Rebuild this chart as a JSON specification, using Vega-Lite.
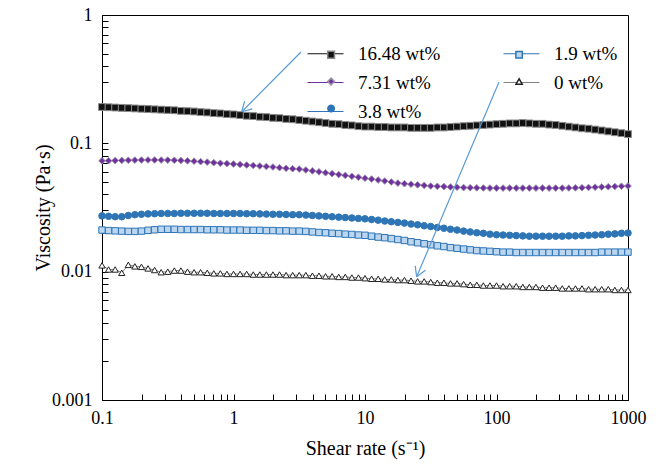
{
  "$schema": "https://vega.github.io/schema/vega-lite/v6.json",
  "width": 526,
  "height": 385,
  "autosize": "none",
  "padding": {"left": 102, "top": 15, "right": 38, "bottom": 65},
  "background": "white",
  "config": {
    "view": {"stroke": "black", "strokeWidth": 1},
    "font": "Liberation Serif",
    "legend": {"labelFont": "Liberation Serif", "labelFontSize": 19, "labelColor": "black"},
    "axis": {
      "grid": false,
      "domainColor": "black",
      "domainWidth": 1,
      "tickColor": "black",
      "tickWidth": 1,
      "labelFont": "Liberation Serif",
      "labelFontSize": 18,
      "labelColor": "black",
      "labelOverlap": false,
      "labelBound": false,
      "labelFlush": false,
      "titleFont": "Liberation Serif",
      "titleFontSize": 20,
      "titleFontWeight": "normal",
      "titleColor": "black"
    }
  },
  "resolve": {"axis": {"x": "independent", "y": "independent"}},
  "datasets": {
    "curves": [
      {"x": 0.1, "a": 0.192, "b": 0.0730, "c": 0.0272, "d": 0.0211, "e": 0.0112},
      {"x": 0.1122, "a": 0.191, "b": 0.0732, "c": 0.0270, "d": 0.0209, "e": 0.0104},
      {"x": 0.1259, "a": 0.190, "b": 0.0734, "c": 0.0268, "d": 0.0208, "e": 0.0104},
      {"x": 0.1413, "a": 0.189, "b": 0.0736, "c": 0.0268, "d": 0.0207, "e": 0.0098},
      {"x": 0.1585, "a": 0.188, "b": 0.0738, "c": 0.0274, "d": 0.0206, "e": 0.0113},
      {"x": 0.1778, "a": 0.187, "b": 0.0740, "c": 0.0278, "d": 0.0206, "e": 0.0110},
      {"x": 0.1995, "a": 0.186, "b": 0.0741, "c": 0.0280, "d": 0.0207, "e": 0.0109},
      {"x": 0.2239, "a": 0.185, "b": 0.0742, "c": 0.0282, "d": 0.0210, "e": 0.0106},
      {"x": 0.2512, "a": 0.184, "b": 0.0742, "c": 0.0283, "d": 0.0212, "e": 0.0103},
      {"x": 0.2818, "a": 0.183, "b": 0.0741, "c": 0.0284, "d": 0.0214, "e": 0.0099},
      {"x": 0.3162, "a": 0.182, "b": 0.0740, "c": 0.0284, "d": 0.0214, "e": 0.0100},
      {"x": 0.3548, "a": 0.181, "b": 0.0738, "c": 0.0284, "d": 0.0214, "e": 0.0102},
      {"x": 0.3981, "a": 0.179, "b": 0.0735, "c": 0.0285, "d": 0.0213, "e": 0.0102},
      {"x": 0.4467, "a": 0.178, "b": 0.0731, "c": 0.0285, "d": 0.0213, "e": 0.0100},
      {"x": 0.5012, "a": 0.177, "b": 0.0726, "c": 0.0285, "d": 0.0213, "e": 0.0099},
      {"x": 0.5623, "a": 0.175, "b": 0.0720, "c": 0.0285, "d": 0.0213, "e": 0.0099},
      {"x": 0.6310, "a": 0.174, "b": 0.0714, "c": 0.0285, "d": 0.0212, "e": 0.0098},
      {"x": 0.7079, "a": 0.172, "b": 0.0707, "c": 0.0284, "d": 0.0212, "e": 0.0097},
      {"x": 0.7943, "a": 0.171, "b": 0.0700, "c": 0.0284, "d": 0.0212, "e": 0.0097},
      {"x": 0.8913, "a": 0.169, "b": 0.0695, "c": 0.0284, "d": 0.0211, "e": 0.0096},
      {"x": 1, "a": 0.168, "b": 0.0690, "c": 0.0284, "d": 0.0211, "e": 0.0096},
      {"x": 1.122, "a": 0.166, "b": 0.0684, "c": 0.0284, "d": 0.0211, "e": 0.0096},
      {"x": 1.259, "a": 0.164, "b": 0.0678, "c": 0.0283, "d": 0.0210, "e": 0.0096},
      {"x": 1.413, "a": 0.163, "b": 0.0672, "c": 0.0283, "d": 0.0210, "e": 0.0095},
      {"x": 1.585, "a": 0.161, "b": 0.0666, "c": 0.0282, "d": 0.0210, "e": 0.0095},
      {"x": 1.778, "a": 0.160, "b": 0.0660, "c": 0.0281, "d": 0.0209, "e": 0.0095},
      {"x": 1.995, "a": 0.158, "b": 0.0654, "c": 0.0280, "d": 0.0209, "e": 0.0095},
      {"x": 2.239, "a": 0.157, "b": 0.0646, "c": 0.0280, "d": 0.0208, "e": 0.0095},
      {"x": 2.512, "a": 0.155, "b": 0.0639, "c": 0.0279, "d": 0.0208, "e": 0.0094},
      {"x": 2.818, "a": 0.154, "b": 0.0634, "c": 0.0278, "d": 0.0207, "e": 0.0094},
      {"x": 3.162, "a": 0.152, "b": 0.0630, "c": 0.0278, "d": 0.0207, "e": 0.0094},
      {"x": 3.548, "a": 0.150, "b": 0.0620, "c": 0.0276, "d": 0.0206, "e": 0.0094},
      {"x": 3.981, "a": 0.148, "b": 0.0610, "c": 0.0274, "d": 0.0204, "e": 0.0093},
      {"x": 4.467, "a": 0.146, "b": 0.0600, "c": 0.0272, "d": 0.0202, "e": 0.0093},
      {"x": 5.012, "a": 0.144, "b": 0.0590, "c": 0.0270, "d": 0.0201, "e": 0.0092},
      {"x": 5.623, "a": 0.142, "b": 0.0580, "c": 0.0268, "d": 0.0199, "e": 0.0092},
      {"x": 6.310, "a": 0.141, "b": 0.0571, "c": 0.0266, "d": 0.0198, "e": 0.0091},
      {"x": 7.079, "a": 0.139, "b": 0.0562, "c": 0.0264, "d": 0.0196, "e": 0.0091},
      {"x": 7.943, "a": 0.138, "b": 0.0553, "c": 0.0262, "d": 0.0195, "e": 0.0090},
      {"x": 8.913, "a": 0.136, "b": 0.0544, "c": 0.0260, "d": 0.0193, "e": 0.0090},
      {"x": 10, "a": 0.135, "b": 0.0535, "c": 0.0258, "d": 0.0192, "e": 0.0089},
      {"x": 11.22, "a": 0.135, "b": 0.0527, "c": 0.0255, "d": 0.0189, "e": 0.0088},
      {"x": 12.59, "a": 0.134, "b": 0.0518, "c": 0.0252, "d": 0.0186, "e": 0.0088},
      {"x": 14.13, "a": 0.134, "b": 0.0509, "c": 0.0248, "d": 0.0184, "e": 0.0087},
      {"x": 15.85, "a": 0.133, "b": 0.0500, "c": 0.0245, "d": 0.0181, "e": 0.0087},
      {"x": 17.78, "a": 0.133, "b": 0.0490, "c": 0.0242, "d": 0.0178, "e": 0.0086},
      {"x": 19.95, "a": 0.133, "b": 0.0485, "c": 0.0239, "d": 0.0175, "e": 0.0086},
      {"x": 22.39, "a": 0.132, "b": 0.0480, "c": 0.0235, "d": 0.0171, "e": 0.0085},
      {"x": 25.12, "a": 0.132, "b": 0.0475, "c": 0.0232, "d": 0.0168, "e": 0.0084},
      {"x": 28.18, "a": 0.132, "b": 0.0470, "c": 0.0228, "d": 0.0165, "e": 0.0084},
      {"x": 31.62, "a": 0.132, "b": 0.0465, "c": 0.0225, "d": 0.0162, "e": 0.0083},
      {"x": 35.48, "a": 0.133, "b": 0.0462, "c": 0.0221, "d": 0.0159, "e": 0.0082},
      {"x": 39.81, "a": 0.133, "b": 0.0460, "c": 0.0218, "d": 0.0157, "e": 0.0082},
      {"x": 44.67, "a": 0.134, "b": 0.0457, "c": 0.0214, "d": 0.0154, "e": 0.0081},
      {"x": 50.12, "a": 0.135, "b": 0.0455, "c": 0.0211, "d": 0.0152, "e": 0.0081},
      {"x": 56.23, "a": 0.136, "b": 0.0452, "c": 0.0207, "d": 0.0150, "e": 0.0080},
      {"x": 63.10, "a": 0.137, "b": 0.0451, "c": 0.0204, "d": 0.0148, "e": 0.0079},
      {"x": 70.79, "a": 0.138, "b": 0.0450, "c": 0.0201, "d": 0.0146, "e": 0.0079},
      {"x": 79.43, "a": 0.139, "b": 0.0449, "c": 0.0199, "d": 0.0145, "e": 0.0078},
      {"x": 89.13, "a": 0.140, "b": 0.0448, "c": 0.0196, "d": 0.0144, "e": 0.0078},
      {"x": 100, "a": 0.141, "b": 0.0448, "c": 0.0194, "d": 0.0143, "e": 0.0078},
      {"x": 112.2, "a": 0.142, "b": 0.0448, "c": 0.0193, "d": 0.0142, "e": 0.0077},
      {"x": 125.9, "a": 0.143, "b": 0.0448, "c": 0.0192, "d": 0.0142, "e": 0.0077},
      {"x": 141.3, "a": 0.143, "b": 0.0448, "c": 0.0191, "d": 0.0141, "e": 0.0077},
      {"x": 158.5, "a": 0.144, "b": 0.0448, "c": 0.0190, "d": 0.0141, "e": 0.0076},
      {"x": 177.8, "a": 0.143, "b": 0.0448, "c": 0.0189, "d": 0.0141, "e": 0.0076},
      {"x": 199.5, "a": 0.142, "b": 0.0448, "c": 0.0189, "d": 0.0141, "e": 0.0076},
      {"x": 223.9, "a": 0.142, "b": 0.0448, "c": 0.0189, "d": 0.0141, "e": 0.0075},
      {"x": 251.2, "a": 0.140, "b": 0.0448, "c": 0.0189, "d": 0.0141, "e": 0.0075},
      {"x": 281.8, "a": 0.139, "b": 0.0448, "c": 0.0189, "d": 0.0141, "e": 0.0075},
      {"x": 316.2, "a": 0.137, "b": 0.0448, "c": 0.0189, "d": 0.0141, "e": 0.0074},
      {"x": 354.8, "a": 0.135, "b": 0.0449, "c": 0.0190, "d": 0.0141, "e": 0.0074},
      {"x": 398.1, "a": 0.133, "b": 0.0450, "c": 0.0190, "d": 0.0141, "e": 0.0074},
      {"x": 446.7, "a": 0.131, "b": 0.0451, "c": 0.0191, "d": 0.0141, "e": 0.0074},
      {"x": 501.2, "a": 0.130, "b": 0.0453, "c": 0.0192, "d": 0.0141, "e": 0.0073},
      {"x": 562.3, "a": 0.128, "b": 0.0455, "c": 0.0193, "d": 0.0141, "e": 0.0073},
      {"x": 631.0, "a": 0.126, "b": 0.0457, "c": 0.0194, "d": 0.0142, "e": 0.0073},
      {"x": 707.9, "a": 0.124, "b": 0.0459, "c": 0.0196, "d": 0.0142, "e": 0.0073},
      {"x": 794.3, "a": 0.122, "b": 0.0461, "c": 0.0197, "d": 0.0142, "e": 0.0072},
      {"x": 891.3, "a": 0.120, "b": 0.0463, "c": 0.0199, "d": 0.0142, "e": 0.0072},
      {"x": 1000, "a": 0.118, "b": 0.0465, "c": 0.0200, "d": 0.0142, "e": 0.0072}
    ],
    "arrows": [
      {"x": 3.26, "visc": 0.515, "x2": 1.155, "visc2": 0.1763},
      {"x": 1.155, "visc": 0.1763, "x2": 1.39, "visc2": 0.1858},
      {"x": 1.155, "visc": 0.1763, "x2": 1.213, "visc2": 0.2133},
      {"x": 104.5, "visc": 0.30, "x2": 24.7, "visc2": 0.00912},
      {"x": 24.7, "visc": 0.00912, "x2": 28.8, "visc2": 0.01027},
      {"x": 24.7, "visc": 0.00912, "x2": 24.1, "visc2": 0.0111}
    ]
  },
  "layer": [
    {
      "data": {"name": "curves"},
      "transform": [{"fold": ["a", "b", "c", "d", "e"], "as": ["series", "visc"]}],
      "mark": {"type": "line", "strokeWidth": 1},
      "encoding": {
        "x": {
          "field": "x",
          "type": "quantitative",
          "scale": {"type": "log", "domain": [0.1, 1000], "nice": false},
          "axis": {
            "title": "Shear rate (s⁻¹)",
            "values": [0.1, 1, 10, 100, 1000],
            "format": "~g",
            "ticks": false,
            "labelPadding": 9,
            "titlePadding": 11
          }
        },
        "y": {
          "field": "visc",
          "type": "quantitative",
          "scale": {"type": "log", "domain": [0.001, 1], "nice": false},
          "axis": {
            "title": "Viscosity (Pa·s)",
            "values": [0.001, 0.01, 0.1, 1],
            "format": "~g",
            "ticks": false,
            "labelPadding": 10,
            "titlePadding": -2
          }
        },
        "color": {
          "field": "series",
          "type": "nominal",
          "scale": {"domain": ["a", "b", "c", "d", "e"], "range": ["#111111", "#7030a0", "#2e75b6", "#2e75b6", "#808080"]},
          "legend": {
            "orient": "none",
            "legendX": 205,
            "legendY": 20,
            "columns": 2,
            "columnPadding": 60,
            "rowPadding": -4,
            "title": null,
            "symbolType": "stroke",
            "symbolSize": 1296,
            "symbolStrokeWidth": 1,
            "labelFont": "Liberation Serif",
            "labelFontSize": 19,
            "labelColor": "black",
            "labelOffset": 14,
            "labelExpr": "datum.value === 'a' ? '16.48 wt%' : datum.value === 'b' ? '7.31 wt%' : datum.value === 'c' ? '3.8 wt%' : datum.value === 'd' ? '1.9 wt%' : '0 wt%'"
          }
        }
      }
    },
    {
      "data": {"name": "curves"},
      "transform": [{"fold": ["a", "b", "c", "d", "e"], "as": ["key", "visc"]}],
      "mark": {"type": "point", "filled": true, "opacity": 1, "strokeWidth": 1},
      "encoding": {
        "x": {"field": "x", "type": "quantitative", "axis": null},
        "y": {"field": "visc", "type": "quantitative", "axis": null},
        "fill": {
          "field": "key",
          "type": "nominal",
          "scale": {"domain": ["a", "b", "c", "d", "e", "z"], "range": ["#111111", "#7030a0", "#2e75b6", "#bcd6ef", "#ffffff", "transparent"]},
          "legend": {
            "orient": "none",
            "legendX": 219.6,
            "legendY": 30,
            "columns": 2,
            "columnPadding": 169,
            "rowPadding": 7,
            "title": null,
            "labelFont": "Liberation Serif",
            "labelFontSize": 19,
            "labelOffset": 0,
            "labelExpr": "' '"
          }
        },
        "stroke": {
          "field": "key",
          "type": "nominal",
          "scale": {"domain": ["a", "b", "c", "d", "e", "z"], "range": ["#8a8a8a", "#9a90a8", "#2e75b6", "#2e75b6", "#222222", "transparent"]}
        },
        "shape": {
          "field": "key",
          "type": "nominal",
          "scale": {"domain": ["a", "b", "c", "d", "e", "z"], "range": ["square", "diamond", "circle", "square", "triangle-up", "circle"]}
        },
        "size": {
          "field": "key",
          "type": "ordinal",
          "scale": {"domain": ["a", "b", "c", "d", "e", "z"], "range": [46, 38, 24, 26, 20, 1]}
        }
      }
    },
    {
      "data": {"name": "arrows"},
      "mark": {"type": "rule", "color": "#5b9bd5", "strokeWidth": 1.2},
      "encoding": {
        "x": {
          "field": "x",
          "type": "quantitative",
          "axis": {
            "orient": "top",
            "offset": -385,
            "values": [0.1, 0.2, 0.3, 0.4, 0.5, 0.6, 0.7, 0.8, 0.9, 1, 2, 3, 4, 5, 6, 7, 8, 9, 10, 20, 30, 40, 50, 60, 70, 80, 90, 100, 200, 300, 400, 500, 600, 700, 800, 900, 1000],
            "labels": false,
            "domain": false,
            "ticks": true,
            "tickSize": 6,
            "title": null
          }
        },
        "y": {
          "field": "visc",
          "type": "quantitative",
          "axis": {
            "orient": "right",
            "offset": -526,
            "values": [0.001, 0.002, 0.003, 0.004, 0.005, 0.006, 0.007, 0.008, 0.009, 0.01, 0.02, 0.03, 0.04, 0.05, 0.06, 0.07, 0.08, 0.09, 0.1, 0.2, 0.3, 0.4, 0.5, 0.6, 0.7, 0.8, 0.9, 1],
            "labels": false,
            "domain": false,
            "ticks": true,
            "tickSize": 6,
            "title": null
          }
        },
        "x2": {"field": "x2"},
        "y2": {"field": "visc2"}
      }
    }
  ]
}
